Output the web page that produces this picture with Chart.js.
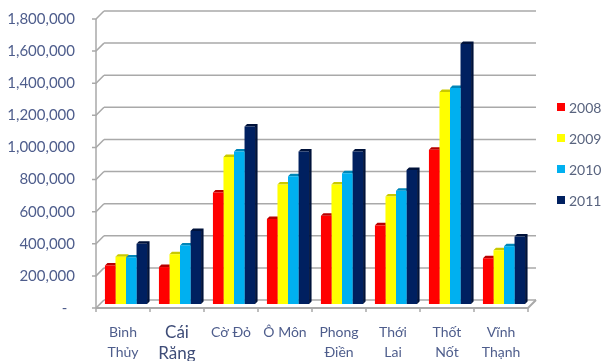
<!DOCTYPE html>
<html>
<head>
<meta charset="utf-8">
<script src="https://cdn.jsdelivr.net/npm/chart.js@4/dist/chart.umd.min.js"></script>
<style>
  html, body { margin: 0; padding: 0; background: #ffffff; }
  #wrap { position: relative; width: 605px; height: 361px; }
</style>
</head>
<body>
<div id="wrap"><canvas id="chart" width="605" height="361"></canvas></div>
<script>
// Districts (two-line labels where the name wraps)
const districts = [
  ['Bình', 'Thủy'],
  ['Cái', 'Răng'],
  'Cờ Đỏ',
  'Ô Môn',
  ['Phong', 'Điền'],
  ['Thới', 'Lai'],
  ['Thốt', 'Nốt'],
  ['Vĩnh', 'Thạnh']
];

const years = ['2008', '2009', '2010', '2011'];

const values2008 = [240000, 230000, 695000, 530000, 550000, 490000, 960000, 285000];
const values2009 = [295000, 310000, 915000, 745000, 745000, 670000, 1320000, 335000];
const values2010 = [290000, 365000, 950000, 795000, 815000, 705000, 1345000, 360000];
const values2011 = [375000, 455000, 1105000, 950000, 950000, 835000, 1620000, 420000];

const yTicks = [0, 200000, 400000, 600000, 800000, 1000000, 1200000, 1400000, 1600000, 1800000];

const faceColors = ['#ff0000', '#ffff00', '#00b0f0', '#002060'];
const shadeColors = ['#b80000', '#c9c900', '#0086b8', '#00123a'];

const TEXT = '#4e5d8c';
const FONT = 'Lato, "Open Sans", sans-serif';

// Depth offsets for the pseudo-3D walls: back wall up/right, front edge down/left
const BACK = { dx: 5, dy: -4 };
const FRONT = { dx: -3, dy: 4 };
const BAR_DEPTH = 2.5;

const wallPlugin = {
  id: 'wall',
  beforeDatasetsDraw(chart) {
    const { ctx, chartArea: a, scales: { x, y } } = chart;
    ctx.save();
    ctx.strokeStyle = '#a9a9a9';
    ctx.lineWidth = 1.5;
    // back-wall gridlines + diagonals to the front axis ticks
    yTicks.forEach(v => {
      const py = y.getPixelForValue(v);
      ctx.beginPath();
      ctx.moveTo(a.left + BACK.dx, py + BACK.dy);
      ctx.lineTo(a.right + BACK.dx, py + BACK.dy);
      ctx.stroke();
      ctx.beginPath();
      ctx.moveTo(a.left + FRONT.dx - 4, py + FRONT.dy);
      ctx.lineTo(a.left + FRONT.dx, py + FRONT.dy);
      ctx.lineTo(a.left + BACK.dx, py + BACK.dy);
      ctx.stroke();
    });
    // front-left vertical edge
    const yTop = y.getPixelForValue(yTicks[yTicks.length - 1]);
    const yZero = y.getPixelForValue(0);
    ctx.beginPath();
    ctx.moveTo(a.left + FRONT.dx, yTop + FRONT.dy);
    ctx.lineTo(a.left + FRONT.dx, yZero + FRONT.dy);
    ctx.stroke();
    // floor front edge and right-hand diagonal
    ctx.lineWidth = 2;
    ctx.beginPath();
    ctx.moveTo(a.left + FRONT.dx, yZero + FRONT.dy);
    ctx.lineTo(a.right + FRONT.dx, yZero + FRONT.dy);
    ctx.lineTo(a.right + BACK.dx, yZero + BACK.dy);
    ctx.stroke();
    // category separators under the floor edge
    ctx.lineWidth = 1.5;
    const n = chart.data.labels.length;
    const step = (a.right - a.left) / n;
    for (let i = 0; i <= n; i++) {
      const px = a.left + FRONT.dx + i * step;
      ctx.beginPath();
      ctx.moveTo(px, yZero + FRONT.dy);
      ctx.lineTo(px, yZero + FRONT.dy + 4);
      ctx.stroke();
    }

    // bar top and side faces, painted before the fronts so neighbours overlap them
    chart.data.datasets.forEach((ds, di) => {
      const meta = chart.getDatasetMeta(di);
      ctx.fillStyle = shadeColors[di];
      meta.data.forEach(bar => {
        const l = bar.x - bar.width / 2, r = bar.x + bar.width / 2;
        const t = bar.y, b = bar.base;
        ctx.beginPath();
        ctx.moveTo(l, t);
        ctx.lineTo(l + BAR_DEPTH, t - BAR_DEPTH);
        ctx.lineTo(r + BAR_DEPTH, t - BAR_DEPTH);
        ctx.lineTo(r + BAR_DEPTH, b - BAR_DEPTH);
        ctx.lineTo(r, b);
        ctx.lineTo(r, t);
        ctx.closePath();
        ctx.fill();
      });
    });
    ctx.restore();
  }
};

const legendPlugin = {
  id: 'sideLegend',
  afterDraw(chart) {
    const { ctx } = chart;
    ctx.save();
    ctx.font = '14px ' + FONT;
    ctx.textBaseline = 'middle';
    ctx.textAlign = 'left';
    chart.data.datasets.forEach((ds, i) => {
      const cy = 107 + i * 31;
      ctx.fillStyle = ds.backgroundColor;
      ctx.fillRect(557, cy - 4, 8, 8);
      ctx.fillStyle = '#59647f';
      ctx.fillText(ds.label, 569, cy + 1);
    });
    ctx.restore();
  }
};

new Chart(document.getElementById('chart'), {
  type: 'bar',
  data: {
    labels: districts,
    datasets: [values2008, values2009, values2010, values2011].map((vals, i) => ({
      label: years[i],
      data: vals,
      backgroundColor: faceColors[i],
      borderWidth: 0,
      categoryPercentage: 0.78,
      barPercentage: 1.0
    }))
  },
  options: {
    responsive: false,
    animation: false,
    layout: { padding: { left: 0, right: 74, top: 15, bottom: 0 } },
    plugins: {
      legend: { display: false },
      tooltip: { enabled: false }
    },
    scales: {
      x: {
        grid: { display: false, drawTicks: false },
        border: { display: false },
        afterFit(scale) {
          scale.height = 57;
          scale.paddingLeft = 0;
          scale.paddingRight = 0;
        },
        ticks: {
          padding: 18,
          labelOffset: -3,
          maxRotation: 0,
          autoSkip: false,
          color(ctx) { return ctx.index === 1 ? '#3f4d78' : TEXT; },
          font(ctx) {
            return ctx.index === 1
              ? { family: FONT, size: 17, lineHeight: 1.24 }
              : { family: FONT, size: 14, lineHeight: 1.43 };
          }
        }
      },
      y: {
        min: 0,
        max: 1800000,
        grid: { display: false, drawTicks: false },
        border: { display: false },
        afterFit(scale) {
          scale.width = 99;
          scale.paddingTop = 0;
          scale.paddingBottom = 0;
        },
        afterBuildTicks(scale) { scale.ticks = yTicks.map(v => ({ value: v })); },
        ticks: {
          padding: 24,
          labelOffset: 4,
          color: TEXT,
          font: { family: FONT, size: 15 },
          callback(v) { return v === 0 ? '-  ' : Number(v).toLocaleString('en-US'); }
        }
      }
    }
  },
  plugins: [wallPlugin, legendPlugin]
});
</script>
</body>
</html>
